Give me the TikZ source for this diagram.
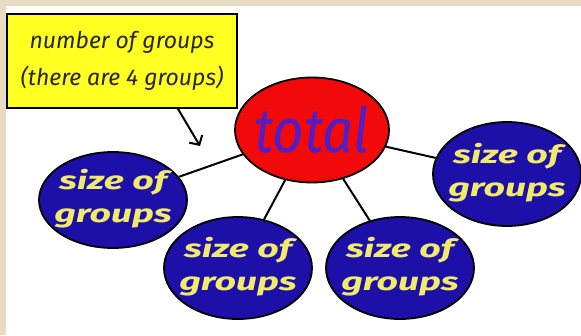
\documentclass[tikz,border=0pt]{standalone}
\usepackage{fontspec}
\setmainfont{Fira Sans}
\usetikzlibrary{shapes.geometric,arrows.meta}
\definecolor{beige}{HTML}{E8DCC4}
\definecolor{calloutyellow}{HTML}{FFFF22}
\definecolor{groupblue}{HTML}{1C10A8}
\definecolor{totalred}{HTML}{F20A0A}
\definecolor{totalviolet}{HTML}{4E1EC8}
\definecolor{textyellow}{HTML}{F2EA6A}
\newcommand{\grouplabel}{\makebox[0pt][c]{\begin{tabular}{@{}c@{}}\scalebox{1.5}[1]{size of}\\[3pt]\scalebox{1.5}[1]{groups}\end{tabular}}}
\tikzset{
  groupnode/.style={ellipse, draw=black, line width=1.8pt, fill=groupblue,
    minimum width=148pt, inner sep=0pt, text=textyellow,
    font=\fontsize{25}{30}\selectfont\bfseries\itshape},
  link/.style={line width=2pt, draw=black},
}
\begin{document}
\begin{tikzpicture}[x=1pt,y=-1pt]
\useasboundingbox (0,0) rectangle (581,335);
\fill[white] (0,0) rectangle (581,335);
\fill[beige] (0,0) rectangle (581,6);
\fill[beige] (0,0) rectangle (6,335);
% callout
\node[draw=black, line width=1.8pt, fill=calloutyellow, minimum width=230pt, minimum height=94pt,
  align=center, font=\fontsize{23}{37}\selectfont\itshape, text=black!85] (callout) at (122,61)
  {number of groups\\(there are 4 groups)};
\coordinate (arrowtip) at (200,146);
\draw[line width=2pt, -{Straight Barb[length=7pt,width=15pt]}] (callout.south) ++(56,0) coordinate (arrowstart) -- (arrowtip);
% total
\node[ellipse, draw=black, line width=1.8pt, fill=totalred, minimum width=154pt, minimum height=105pt,
  inner sep=0pt, text=totalviolet, font=\fontsize{62}{62}\selectfont\itshape] (total) at (312,130)
  {\makebox[0pt][c]{\scalebox{0.88}[1]{total}}};
% groups
\node[groupnode, minimum height=96pt] (g1) at (113,200) {\grouplabel};
\node[groupnode, minimum height=102pt] (g2) at (238,268) {\grouplabel};
\node[groupnode, minimum height=102pt] (g3) at (400,268) {\grouplabel};
\node[groupnode, minimum height=104pt] (g4) at (507,174) {\grouplabel};
\draw[link] (total) -- (g1);
\draw[link] (total) -- (g2);
\draw[link] (total) -- (g3);
\draw[link] (total) -- (g4);
\end{tikzpicture}
\end{document}
